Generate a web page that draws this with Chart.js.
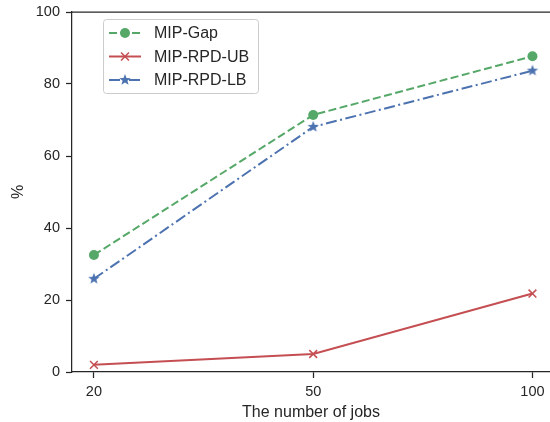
<!DOCTYPE html>
<html>
<head>
<meta charset="utf-8">
<script src="https://cdn.jsdelivr.net/npm/chart.js@4"></script>
<style>
  html, body { margin: 0; padding: 0; background: #fff; }
  #wrap { width: 550px; height: 422px; }
</style>
</head>
<body>
<div id="wrap"><canvas id="chart" width="550" height="422"></canvas></div>
<script>
const jobs = ["20", "50", "100"];
const mipGap = [32.5, 71.4, 87.7];
const rpdUB = [2.0, 5.0, 21.8];
const rpdLB = [25.9, 68.1, 83.7];

const FONT = "'Liberation Sans', Arial, sans-serif";
const INK = "#262626";

function starImage(color, r) {
  const size = Math.ceil(r * 2 + 2);
  const c = document.createElement("canvas");
  c.width = size; c.height = size;
  const g = c.getContext("2d");
  const cx = size / 2, cy = size / 2;
  g.beginPath();
  for (let i = 0; i < 10; i++) {
    const rad = i % 2 === 0 ? r : r * 0.42;
    const a = -Math.PI / 2 + i * Math.PI / 5;
    const px = cx + rad * Math.cos(a), py = cy + rad * Math.sin(a);
    if (i === 0) g.moveTo(px, py); else g.lineTo(px, py);
  }
  g.closePath();
  g.fillStyle = color;
  g.fill();
  return c;
}

const star = starImage("#4C72B0", 6);
const toPts = arr => arr.map((v, i) => ({ x: i, y: v }));

// top spine + legend box in matplotlib style
const extras = {
  id: "extras",
  afterDraw(chart) {
    const { ctx, chartArea } = chart;
    ctx.save();
    ctx.strokeStyle = INK;
    ctx.lineWidth = 1.25;
    ctx.beginPath();
    ctx.moveTo(chartArea.left, chartArea.top);
    ctx.lineTo(chartArea.right, chartArea.top);
    ctx.stroke();

    const bx = chartArea.left + 31, by = chartArea.top + 7;
    ctx.fillStyle = "rgba(255,255,255,0.8)";
    ctx.strokeStyle = "#cccccc";
    ctx.lineWidth = 1;
    ctx.beginPath();
    ctx.roundRect(bx + 0.5, by + 0.5, 155, 74, 3);
    ctx.fill();
    ctx.stroke();

    chart.data.datasets.forEach((ds, i) => {
      const y = by + 14 + i * 23.5;
      const x0 = bx + 6, x1 = bx + 38, xm = (x0 + x1) / 2;
      ctx.strokeStyle = ds.borderColor;
      ctx.lineWidth = ds.borderWidth;
      ctx.setLineDash(ds.borderDash || []);
      ctx.beginPath();
      ctx.moveTo(x0, y);
      ctx.lineTo(x1, y);
      ctx.stroke();
      ctx.setLineDash([]);
      if (ds.pointStyle === "circle") {
        ctx.fillStyle = ds.pointBackgroundColor;
        ctx.beginPath();
        ctx.arc(xm, y, ds.pointRadius, 0, Math.PI * 2);
        ctx.fill();
      } else if (ds.pointStyle === "crossRot") {
        const d = ds.pointRadius * 0.72;
        ctx.lineWidth = 1.5;
        ctx.beginPath();
        ctx.moveTo(xm - d, y - d); ctx.lineTo(xm + d, y + d);
        ctx.moveTo(xm - d, y + d); ctx.lineTo(xm + d, y - d);
        ctx.stroke();
      } else {
        ctx.drawImage(ds.pointStyle, xm - ds.pointStyle.width / 2, y - ds.pointStyle.height / 2);
      }
      ctx.fillStyle = INK;
      ctx.font = "16px " + FONT;
      ctx.textBaseline = "middle";
      ctx.fillText(ds.label, bx + 51, y + 1);
    });
    ctx.restore();
  }
};

new Chart(document.getElementById("chart"), {
  type: "line",
  data: {
    datasets: [
      {
        label: "MIP-Gap",
        data: toPts(mipGap),
        borderColor: "#55A868",
        borderWidth: 2,
        borderDash: [8, 3.5],
        pointStyle: "circle",
        pointRadius: 5,
        pointBackgroundColor: "#55A868",
        pointBorderColor: "#55A868",
        pointBorderWidth: 0,
      },
      {
        label: "MIP-RPD-UB",
        data: toPts(rpdUB),
        borderColor: "#C44E52",
        borderWidth: 2,
        pointStyle: "crossRot",
        pointRadius: 5.5,
        pointBorderColor: "#C44E52",
        pointBackgroundColor: "#C44E52",
        pointBorderWidth: 1.5,
      },
      {
        label: "MIP-RPD-LB",
        data: toPts(rpdLB),
        borderColor: "#4C72B0",
        borderWidth: 2,
        borderDash: [11, 3.5, 2, 3.5],
        pointStyle: star,
        pointRadius: 6,
        pointBackgroundColor: "#4C72B0",
        pointBorderColor: "#4C72B0",
      },
    ],
  },
  options: {
    responsive: false,
    animation: false,
    layout: { autoPadding: false, padding: { top: 12, right: 0, left: 0, bottom: 0 } },
    plugins: {
      legend: { display: false },
      tooltip: { enabled: false },
    },
    scales: {
      x: {
        type: "linear",
        min: -0.1,
        max: 2.08,
        afterFit: scale => {
          scale.height = 50;
          scale.paddingLeft = 0;
          scale.paddingRight = 0;
        },
        afterBuildTicks: scale => {
          scale.ticks = jobs.map((_, i) => ({ value: i }));
        },
        ticks: {
          color: INK,
          padding: 5,
          maxRotation: 0,
          font: { size: 14.5, family: FONT },
          callback: v => jobs[v],
        },
        grid: {
          drawOnChartArea: false,
          drawTicks: true,
          tickLength: 6,
          tickColor: INK,
          tickWidth: 1.25,
        },
        border: { color: INK, width: 1.25 },
        title: {
          display: true,
          text: "The number of jobs",
          color: INK,
          font: { size: 16, family: FONT },
          padding: { top: 0, bottom: 0 },
        },
      },
      y: {
        min: 0,
        max: 100,
        afterFit: scale => {
          scale.width = 72;
          scale.paddingTop = 0;
          scale.paddingBottom = 0;
        },
        ticks: {
          stepSize: 20,
          color: INK,
          padding: 6,
          font: { size: 14.5, family: FONT },
        },
        grid: {
          drawOnChartArea: false,
          drawTicks: true,
          tickLength: 6,
          tickColor: INK,
          tickWidth: 1.25,
        },
        border: { color: INK, width: 1.25 },
        title: {
          display: true,
          text: "%",
          color: INK,
          font: { size: 16, family: FONT },
          padding: { top: 9, bottom: 0 },
        },
      },
    },
  },
  plugins: [extras],
});
</script>
</body>
</html>
